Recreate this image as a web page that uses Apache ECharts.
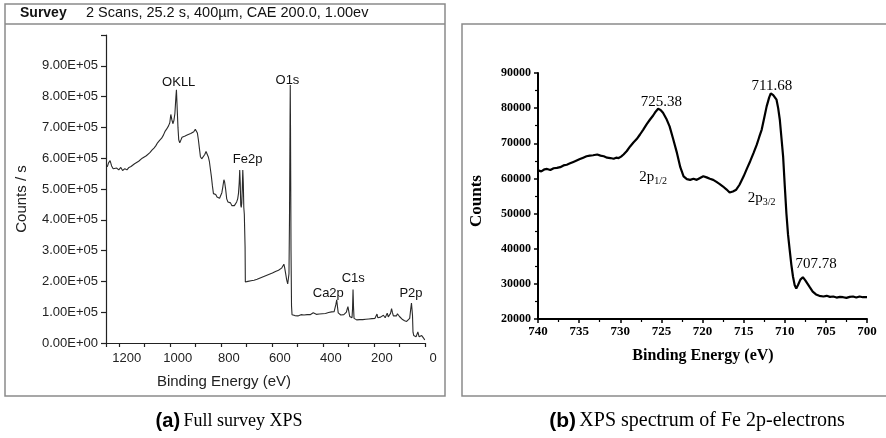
<!DOCTYPE html>
<html><head><meta charset="utf-8">
<script src="https://cdn.jsdelivr.net/npm/echarts@6/dist/echarts.min.js"></script>
<style>html,body{margin:0;padding:0;background:#fff}#c{width:886px;height:438px}</style>
</head><body><div id="c"></div>
<script>
// ---------- Data ----------
// (a) Survey spectrum: [binding energy eV, counts/s]
const surveyData = [[1245,572000],[1240,585000],[1234,592000],[1228,575000],[1222,566000],[1215,560000],[1208,568000],[1200,562000],[1192,570000],[1185,560000],[1176,566000],[1168,562000],[1160,570000],[1152,573000],[1145,576000],[1138,582000],[1130,586000],[1122,590000],[1115,595000],[1108,600000],[1100,604000],[1092,608000],[1085,613000],[1078,618000],[1070,626000],[1062,633000],[1055,640000],[1048,650000],[1040,658000],[1032,665000],[1025,675000],[1018,688000],[1012,695000],[1005,705000],[1000,715000],[996,742000],[992,725000],[988,712000],[984,722000],[980,745000],[976,800000],[974,822000],[971,760000],[968,700000],[965,660000],[961,650000],[957,658000],[952,668000],[946,662000],[940,672000],[935,668000],[930,676000],[924,670000],[918,680000],[912,674000],[906,686000],[900,694000],[896,697000],[892,682000],[888,660000],[884,632000],[880,605000],[875,598000],[869,602000],[863,612000],[858,622000],[853,618000],[849,604000],[845,590000],[841,565000],[837,540000],[833,510000],[829,485000],[825,480000],[820,482000],[815,474000],[810,478000],[805,470000],[800,474000],[796,488000],[792,508000],[788,530000],[785,522000],[781,498000],[777,468000],[772,458000],[767,452000],[762,455000],[757,446000],[752,450000],[747,446000],[742,452000],[738,458000],[734,468000],[731,485000],[728,520000],[726,562000],[724,520000],[722,448000],[720,440000],[718,455000],[716,500000],[714,562000],[712,520000],[710,440000],[708,418000],[706,415000],[705,310000],[704,198000],[700,196000],[694,200000],[688,198000],[682,202000],[676,203000],[670,204000],[664,206000],[658,207000],[652,209000],[646,211000],[640,212000],[634,215000],[628,216000],[622,219000],[616,221000],[610,223000],[604,225000],[598,227000],[592,229000],[586,232000],[580,234000],[574,236000],[568,239000],[562,243000],[557,248000],[553,256000],[550,245000],[546,225000],[542,205000],[538,192000],[536,190000],[533,225000],[531,400000],[529,700000],[528,838000],[527,700000],[525,300000],[523,120000],[521,92000],[516,88000],[510,89000],[504,91000],[498,88000],[492,90000],[486,92000],[480,90000],[474,91000],[468,93000],[462,92000],[456,94000],[450,92000],[444,95000],[438,98000],[435,104000],[432,96000],[426,93000],[420,95000],[414,94000],[408,96000],[402,95000],[396,97000],[390,96000],[384,98000],[378,99000],[372,100000],[366,101000],[360,104000],[356,102000],[352,108000],[349,126000],[346,140000],[343,118000],[340,98000],[336,92000],[330,91000],[324,93000],[318,92000],[312,95000],[308,100000],[305,110000],[302,118000],[299,104000],[295,86000],[290,80000],[286,82000],[284,110000],[282,174000],[280,115000],[278,80000],[274,76000],[268,75000],[262,77000],[256,76000],[250,77000],[244,76000],[238,78000],[232,77000],[226,79000],[220,78000],[214,80000],[208,79000],[202,81000],[196,80000],[192,83000],[188,94000],[185,82000],[180,81000],[174,84000],[168,83000],[163,90000],[160,84000],[156,82000],[152,86000],[148,97000],[144,85000],[139,84000],[135,96000],[131,112000],[128,100000],[124,88000],[118,86000],[112,88000],[108,95000],[104,94000],[100,86000],[95,80000],[88,76000],[80,72000],[72,70000],[66,72000],[60,80000],[56,110000],[53,130000],[51,128000],[49,90000],[47,35000],[44,24000],[40,22000],[35,20000],[31,25000],[28,36000],[26,34000],[23,20000],[20,16000],[16,17000],[13,24000],[10,28000],[7,20000],[4,14000],[1,10000]];
const surveyXTickLabels = ['0','200','400','600','800','1000','1200'];
const surveyYTickLabels = ['0.00E+00','1.00E+05','2.00E+05','3.00E+05','4.00E+05','5.00E+05','6.00E+05','7.00E+05','8.00E+05','9.00E+05'];
const surveyPeaks = [
  {name:'OKLL', x:965, y:847000},
  {name:'O1s',  x:539, y:854000},
  {name:'Fe2p', x:695, y:597000},
  {name:'Ca2p', x:379, y:162000},
  {name:'C1s',  x:281, y:211000},
  {name:'P2p',  x:55,  y:162000}
];
// (b) Fe 2p spectrum: [binding energy eV, counts]
const fe2pData = [[740,62300],[739.6,62000],[739.2,62600],[738.9,62700],[738.5,62400],[738.1,62900],[737.7,63000],[737.3,63200],[736.9,63700],[736.5,63900],[736.1,64300],[735.7,64700],[735.3,65100],[734.9,65500],[734.5,65900],[734.1,66300],[733.7,66500],[733.3,66600],[732.8,66800],[732.4,66500],[732,66300],[731.6,65900],[731.2,65800],[730.8,65600],[730.5,65900],[730.2,65800],[729.9,66200],[729.6,66800],[729.2,67800],[728.8,69100],[728.4,70200],[728,71200],[727.6,72500],[727.2,73900],[726.8,75400],[726.4,76700],[726,77900],[725.7,79000],[725.4,79800],[725.1,79500],[724.8,78700],[724.4,77000],[724,74800],[723.6,71500],[723.1,67200],[722.7,63200],[722.3,60600],[721.9,59800],[721.5,59600],[721.1,59900],[720.7,59600],[720.3,60100],[719.9,60600],[719.5,60300],[719.1,59900],[718.7,59600],[718.3,59000],[717.9,58400],[717.5,57700],[717.1,56900],[716.7,56000],[716.3,56300],[715.9,56800],[715.5,58200],[715,60600],[714.6,62800],[714.2,64900],[713.8,67200],[713.4,69600],[713.1,71800],[712.8,73900],[712.5,77200],[712.2,80500],[711.9,83000],[711.7,84200],[711.4,83700],[711,82400],[710.8,80000],[710.6,76700],[710.4,71500],[710.2,66300],[710,58000],[709.8,50100],[709.6,44000],[709.4,39700],[709.2,35500],[709,32100],[708.8,29700],[708.6,28700],[708.4,29600],[708.1,31200],[707.8,31900],[707.5,31000],[707,29200],[706.6,27800],[706.2,27000],[705.8,26600],[705.3,26400],[704.9,26600],[704.5,26300],[704.1,26400],[703.7,26100],[703.3,26300],[702.9,26200],[702.5,26000],[702.1,26300],[701.7,26400],[701.3,26100],[700.9,26400],[700.5,26200],[700,26200]];
const fe2pXTickLabels = ['700','705','710','715','720','725','730','735','740'];
const fe2pYTickLabels = ['20000','30000','40000','50000','60000','70000','80000','90000'];
const fe2pPeaks = [
  {text:'725.38', x:725.0, y:81600},
  {text:'711.68', x:711.57, y:86150},
  {text:'2p{s|1/2}', x:726.0, y:60500},
  {text:'2p{s|3/2}', x:712.8, y:54500},
  {text:'707.78', x:706.2, y:35700}
];

// ---------- Chart ----------
const chart = echarts.init(document.getElementById('c'), null, {renderer:'canvas'});
const sans = 'Liberation Sans, Arial, sans-serif';
const serif = 'Liberation Serif, Times New Roman, serif';

const option = {
  animation: false,
  backgroundColor: '#fff',
  grid: [
    {left:106, right:461, top:35, bottom:95, containLabel:false},
    {left:538, right:19, top:73, bottom:119, containLabel:false}
  ],
  xAxis: [
    {gridIndex:0, type:'value', inverse:true, min:0, max:1250, interval:100,
     axisLine:{show:true, onZero:false, lineStyle:{color:'#222', width:1.2}},
     axisTick:{show:true, length:4, lineStyle:{color:'#222', width:1.2}},
     splitLine:{show:false},
     axisLabel:{color:'#222', fontFamily:sans, fontSize:13, margin:9, padding:[0,0,0,16],
       formatter: v => surveyXTickLabels.includes(String(v)) ? String(v) : ''}},
    {gridIndex:1, type:'value', inverse:true, min:700, max:740, interval:5,
     axisLine:{show:true, onZero:false, lineStyle:{color:'#000', width:2}},
     axisTick:{show:true, length:4, lineStyle:{color:'#000', width:1.5}},
     minorTick:{show:true, splitNumber:2, length:3, lineStyle:{color:'#000', width:1.2}},
     splitLine:{show:false},
     axisLabel:{color:'#000', fontFamily:serif, fontWeight:'bold', fontSize:13, margin:6,
       formatter: v => fe2pXTickLabels.includes(String(v)) ? String(v) : ''}}
  ],
  yAxis: [
    {gridIndex:0, type:'value', min:0, max:1000000, interval:100000,
     axisLine:{show:true, onZero:false, lineStyle:{color:'#222', width:1.2}},
     axisTick:{show:true, length:5, lineStyle:{color:'#222', width:1.2}},
     splitLine:{show:false},
     axisLabel:{color:'#222', fontFamily:sans, fontSize:13, margin:8,
       formatter: v => { const i = Math.round(v/100000); return surveyYTickLabels[i] || ''; }}},
    {gridIndex:1, type:'value', min:20000, max:90000, interval:10000,
     axisLine:{show:true, onZero:false, lineStyle:{color:'#000', width:2}},
     axisTick:{show:true, length:4, lineStyle:{color:'#000', width:1.5}},
     minorTick:{show:true, splitNumber:2, length:3, lineStyle:{color:'#000', width:1.2}},
     splitLine:{show:false},
     axisLabel:{color:'#000', fontFamily:serif, fontWeight:'bold', fontSize:12, margin:7,
       formatter: v => fe2pYTickLabels.includes(String(v)) ? String(v) : ''}}
  ],
  series: [
    {type:'line', xAxisIndex:0, yAxisIndex:0, data:surveyData, showSymbol:false, symbol:'none',
     lineStyle:{color:'#2a2a2a', width:1.1}},
    {type:'line', xAxisIndex:1, yAxisIndex:1, data:fe2pData, showSymbol:false, symbol:'none',
     lineStyle:{color:'#000', width:2.2}}
  ]
};
chart.setOption(option);

const g = [];
// panel frames
g.push({type:'rect', shape:{x:5, y:4, width:440, height:392}, style:{fill:null, stroke:'#8a8a8a', lineWidth:1.5}, silent:true});
g.push({type:'line', shape:{x1:5, y1:24, x2:445, y2:24}, style:{stroke:'#8a8a8a', lineWidth:1.5}, silent:true});
g.push({type:'rect', shape:{x:462, y:24, width:440, height:372}, style:{fill:null, stroke:'#8a8a8a', lineWidth:1.5}, silent:true});
// header
g.push({type:'text', x:20, y:13, style:{text:'Survey', font:'bold 14px '+sans, fill:'#111', textVerticalAlign:'middle'}});
g.push({type:'text', x:86, y:13, style:{text:'2 Scans, 25.2 s, 400µm, CAE 200.0, 1.00ev', font:'14.5px '+sans, fill:'#111', textVerticalAlign:'middle'}});
// axis names
g.push({type:'text', x:224, y:382, style:{text:'Binding Energy (eV)', font:'15px '+sans, fill:'#222', textAlign:'center', textVerticalAlign:'middle'}});
g.push({type:'text', x:22, y:199, rotation:Math.PI/2, style:{text:'Counts / s', font:'15px '+sans, fill:'#222', textAlign:'center', textVerticalAlign:'middle'}});
g.push({type:'text', x:703, y:356, style:{text:'Binding Energy (eV)', font:'bold 16px '+serif, fill:'#000', textAlign:'center', textVerticalAlign:'middle'}});
g.push({type:'text', x:477, y:201, rotation:Math.PI/2, style:{text:'Counts', font:'bold 17px '+serif, fill:'#000', textAlign:'center', textVerticalAlign:'middle'}});
// peak labels
surveyPeaks.forEach(p => {
  const pt = chart.convertToPixel({gridIndex:0}, [p.x, p.y]);
  g.push({type:'text', x:pt[0], y:pt[1], style:{text:p.name, font:'13px '+sans, fill:'#111', textAlign:'center', textVerticalAlign:'middle'}});
});
fe2pPeaks.forEach(p => {
  const pt = chart.convertToPixel({gridIndex:1}, [p.x, p.y]);
  g.push({type:'text', x:pt[0], y:pt[1], style:{text:p.text, font:'15px '+serif, fill:'#000', textAlign:'center', textVerticalAlign:'middle',
    rich:{s:{fontSize:10, fontFamily:serif, padding:[9,0,0,0]}}}});
});
// captions
g.push({type:'text', x:229, y:421, style:{text:'{a|(a)} {t|Full survey XPS}', textAlign:'center', textVerticalAlign:'middle',
  rich:{a:{font:'bold 20px '+sans, fill:'#000'}, t:{font:'18px '+serif, fill:'#000'}}}});
g.push({type:'text', x:697, y:421, style:{text:'{a|(b)} {t|XPS spectrum of Fe 2p-electrons}', textAlign:'center', textVerticalAlign:'middle',
  rich:{a:{font:'bold 21px '+sans, fill:'#000'}, t:{font:'20px '+serif, fill:'#000'}}}});
chart.setOption({graphic: g});
</script></body></html>
